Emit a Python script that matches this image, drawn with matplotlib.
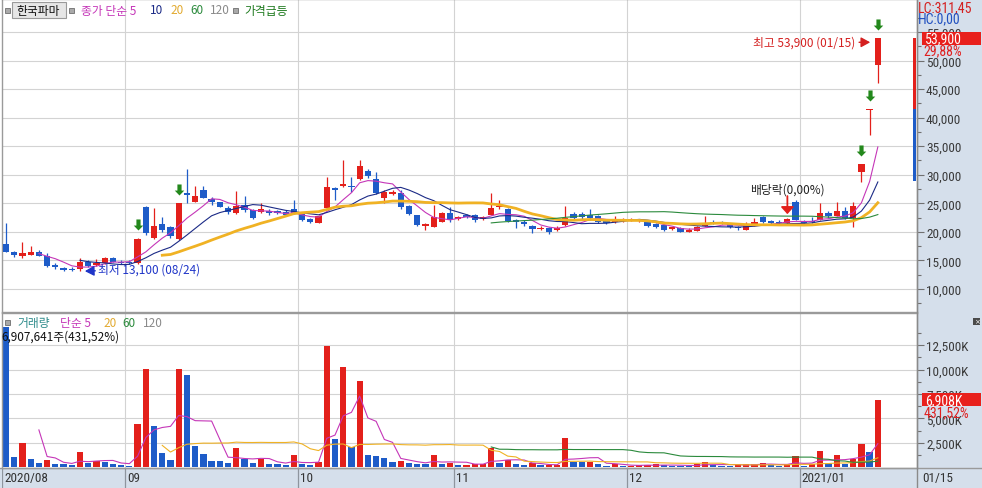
import numpy as np
import pandas as pd
import matplotlib
matplotlib.use("Agg")
import matplotlib.pyplot as plt
from matplotlib import font_manager
from matplotlib.font_manager import FontProperties
from matplotlib.path import Path
from matplotlib.patches import Rectangle
from matplotlib.transforms import offset_copy

# ---------------- data ----------------
holidays = ["2020-08-17", "2020-09-30", "2020-10-01", "2020-10-02",
            "2020-10-09", "2020-12-25", "2020-12-31", "2021-01-01"]
trade_days = pd.bdate_range("2020-08-10", "2021-01-15")
trade_days = trade_days[~trade_days.isin(pd.to_datetime(holidays))]

opens = [17900, 16500, 15800, 16000, 16400, 15800, 14200, 13700, 13500, 13500,
         14800, 14200, 14600, 15400, 14800, 14700, 14500, 24400, 19000, 21300,
         20900, 18700, 26800, 25300, 27400, 25800, 25200, 24200, 23300, 24700,
         23900, 23500, 23600, 23600, 23500, 24000, 23200, 22200, 21600, 24200,
         27600, 28000, 28100, 29300, 30700, 29300, 26000, 26600, 26800, 24500,
         23000, 21100, 20900, 21800, 23300, 22300, 23000, 23000, 22300, 23000,
         24400, 24000, 22100, 21800, 21000, 20500, 20700, 20300, 21200, 23200,
         23200, 23000, 22800, 21900, 21800, 22000, 22000, 21900, 21700, 21300,
         21200, 20500, 20700, 20000, 20200, 21100, 21800, 21700, 21400, 20900,
         20400, 21100, 22600, 21900, 21800, 21500, 25300, 21900, 21900, 22100,
         23300, 22800, 23600, 22450, 30500, 41300, 49200]
highs = [21600, 16600, 18300, 17600, 16800, 16300, 14600, 13800, 13900, 15400,
         15000, 15300, 15600, 15600, 15100, 15000, 18900, 24600, 24200, 22600,
         21000, 25000, 31000, 28000, 28000, 26100, 25300, 24500, 27200, 26300,
         24000, 25100, 24000, 23800, 23800, 25600, 23500, 22500, 23000, 29600,
         27900, 32600, 29600, 32600, 31000, 30500, 27400, 27400, 27400, 24700,
         23000, 21600, 24700, 23500, 24400, 22800, 23200, 23200, 22800, 26800,
         25600, 24200, 22300, 22000, 21200, 21000, 20800, 21000, 24500, 23400,
         23500, 24000, 23000, 22100, 22700, 22500, 22400, 22200, 21900, 21500,
         21300, 20900, 20800, 20600, 21000, 22800, 22000, 21900, 21500, 21100,
         21700, 22400, 22800, 22100, 22000, 22500, 25500, 22100, 22600, 25100,
         23700, 25200, 24400, 25200, 31950, 41500, 53900]
lows = [16400, 15600, 15500, 16000, 15700, 13900, 13500, 13200, 13200, 13100,
        13900, 14000, 14300, 14700, 14400, 14300, 14400, 19500, 18800, 20000,
        19000, 18500, 25000, 25200, 25900, 24700, 24300, 23200, 23100, 23500,
        22200, 23300, 22900, 23100, 22800, 23200, 21900, 21600, 21500, 24000,
        25600, 27800, 27000, 29100, 29500, 26600, 25000, 26400, 24000, 23000,
        21000, 20300, 20800, 21700, 21800, 22100, 22400, 21700, 22100, 22900,
        24000, 21700, 20700, 21000, 19800, 20300, 19650, 20200, 21100, 22300,
        22300, 22100, 21500, 21400, 21500, 21800, 21900, 21700, 20800, 20600,
        20200, 20300, 19900, 19900, 20100, 21000, 21400, 21300, 20700, 20400,
        20300, 21000, 21500, 21400, 21300, 21400, 22000, 21400, 21500, 22000,
        22400, 22700, 22300, 20900, 28750, 37000, 46100]
closes = [16500, 15900, 16300, 16500, 15800, 14100, 13800, 13300, 13300, 14700,
          14100, 14600, 15400, 14800, 14600, 14500, 18800, 19800, 21000, 20400,
          19200, 25000, 26400, 26300, 26000, 25300, 24400, 23500, 24500, 23900,
          22500, 24000, 23300, 23300, 23000, 23300, 22000, 21800, 22800, 27900,
          27300, 28400, 27900, 31500, 29800, 26800, 27000, 26900, 24400, 23200,
          21200, 21300, 22600, 23300, 22100, 22600, 22600, 22000, 22600, 24200,
          24600, 21900, 21700, 21300, 20500, 20700, 20000, 20700, 22400, 22500,
          22600, 22500, 21700, 21600, 22200, 22200, 22200, 22000, 21000, 20800,
          20400, 20800, 20000, 20400, 20900, 21500, 21600, 21400, 20800, 20600,
          21000, 21700, 21700, 21600, 21500, 22300, 22100, 21600, 21700, 23300,
          22800, 23600, 22450, 24600, 31950, 41500, 53900]
# volume, thousand shares
volumes = [14330, 1060, 2510, 830, 410, 720, 310, 300, 240, 1550,
           490, 620, 550, 310, 240, 140, 4440, 10120, 4240, 1450,
           720, 10020, 9500, 2200, 1340, 620, 610, 410, 1960, 900,
           410, 900, 310, 300, 240, 1240, 380, 240, 520, 12470,
           2890, 10230, 2030, 8880, 1240, 1170, 930, 550, 650, 410,
           340, 330, 1270, 340, 490, 230, 250, 310, 320, 1930,
           490, 720, 380, 210, 410, 210, 220, 240, 3000, 550,
           500, 590, 310, 140, 310, 150, 180, 200, 260, 290,
           200, 180, 150, 140, 300, 550, 200, 180, 170, 300,
           310, 380, 400, 250, 140, 310, 1170, 150, 380, 1620,
           380, 1240, 310, 900, 2380, 1600.78, 6907.641]

surge_days = ["2020-09-02", "2020-09-09", "2021-01-13", "2021-01-14", "2021-01-15"]
exdiv_day = "2020-12-29"
exdiv_label = "배당락(0,00%)"
stock_name = "한국파마"
lc_text = "LC:311,45"
hc_text = "HC:0,00"
side_red = (41500, 53900)
side_blue = (28900, 41500)
price_ticks = list(range(10000, 55001, 5000))
vol_ticks = [2500, 5000, 7500, 10000, 12500]
ma_periods = [5, 10, 20, 60]
vol_ma_periods = [5, 20, 60]

# ---------------- style ----------------
RED = "#e3201b"
BLUE = "#1e5cc8"
MA_COL = {5: "#c536b8", 10: "#1b2a86", 20: "#f0b224", 60: "#2b8a3c"}
MA_LW = {5: 0.8, 10: 0.8, 20: 2.0, 60: 0.8}
GREEN = "#23881c"
GRID = "#d3d3d3"
BG = "#d5dfeb"
KR = ["Noto Sans CJK KR", "DejaVu Sans"]


def pick(names):
    for n in names:
        try:
            font_manager.findfont(FontProperties(family=n), fallback_to_default=False)
            return n
        except ValueError:
            pass
    return "DejaVu Sans"


NUM = pick(["Liberation Sans Narrow", "DejaVu Sans Condensed", "Roboto Condensed", "Liberation Sans"])
plt.rcParams["font.family"] = KR

o = np.array(opens, float)
h = np.array(highs, float)
l = np.array(lows, float)
c = np.array(closes, float)
v = np.array(volumes, float)
n = len(c)
x = np.arange(n)

W, H = 982, 489
fig = plt.figure(figsize=(W / 100, H / 100), dpi=100)
fig.patch.set_facecolor("white")
fig.patches.append(Rectangle((917 / W, 0), (W - 917) / W, 1, transform=fig.transFigure,
                             facecolor=BG, edgecolor="none", zorder=-2))
fig.patches.append(Rectangle((0, 0), 1, 20 / H, transform=fig.transFigure,
                             facecolor=BG, edgecolor="none", zorder=-2))


def frame(x0, y0, x1, y1):
    return [x0 / W, 1 - y1 / H, (x1 - x0) / W, (y1 - y0) / H]


def ftext(px, py, s, **kw):
    kw.setdefault("va", "center")
    kw.setdefault("ha", "left")
    return fig.text(px / W, 1 - py / H, s, **kw)


ax = fig.add_axes(frame(2, 0, 917, 313))
axv = fig.add_axes(frame(2, 314, 917, 469), sharex=ax)
axd = fig.add_axes(frame(2, 469, 917, 489), sharex=ax)

ax.set_xlim(-0.486, 110.76)
ax.set_ylim(5970, 60780)
axv.set_ylim(-72, 15805)
axd.set_ylim(0, 1)

for a in (ax, axv):
    a.set_facecolor("white")
    a.set_axisbelow(True)
    for s in a.spines.values():
        s.set_color("#9a9a9a")
        s.set_linewidth(1)
    a.tick_params(axis="x", which="both", bottom=False, labelbottom=False)
    a.yaxis.tick_right()
    a.tick_params(axis="y", which="major", direction="out", length=5, width=0.8,
                  color="#707070", pad=1.5, labelsize=9.5, labelcolor="#3a3a3a")
    a.tick_params(axis="y", which="minor", direction="out", length=3, width=0.8, color="#707070")
    a.grid(axis="y", which="major", color=GRID, lw=0.8)

ax.set_yticks(price_ticks, labels=[f"{t:,}" for t in price_ticks], fontfamily=NUM)
ax.set_yticks(np.arange(7500, 60000, 2500), minor=True)
axv.set_yticks(vol_ticks, labels=[f"{t:,}K" for t in vol_ticks], fontfamily=NUM)
axv.set_yticks(np.arange(1250, 15000, 1250), minor=True)

axd.set_facecolor("none")
for s in axd.spines.values():
    s.set_visible(False)
axd.tick_params(left=False, bottom=False, labelleft=False, labelbottom=False)

# month separators
month_start = [i for i in range(n) if i == 0 or trade_days[i].month != trade_days[i - 1].month]
for i in month_start:
    if i > 0:
        ax.axvline(i - 0.5, color=GRID, lw=0.8, zorder=0.5)
        axv.axvline(i - 0.5, color=GRID, lw=0.8, zorder=0.5)
    axd.axvline(i - 0.5, color="#8e959e", lw=0.9)
    fmt = "%Y/%m" if (i == 0 or trade_days[i].year != trade_days[i - 1].year) else "%m"
    axd.text(i - 0.5 + 0.25, 0.5, trade_days[i].strftime(fmt), fontfamily=NUM, fontsize=9.5,
             color="#333333", va="center", ha="left")
ftext(922, 479, trade_days[-1].strftime("%m/%d"), fontfamily=NUM, fontsize=9.5, color="#333333")
fig.add_artist(plt.Line2D([0, 1], [20 / H, 20 / H], transform=fig.transFigure, color="#9a9a9a", lw=1))
fig.add_artist(plt.Line2D([917 / W, 917 / W], [0, 1], transform=fig.transFigure, color="#8a8a8a", lw=1))

# candles
ccol = np.where(c >= o, RED, BLUE)
ax.vlines(x, l, h, colors=ccol, lw=0.9, zorder=3)
body = np.abs(c - o)
bh = np.maximum(body, 180)
bb = np.minimum(o, c) - (bh - body) / 2
ax.bar(x, bh, bottom=bb, width=0.76, color=ccol, lw=0, zorder=3)

closes_s = pd.Series(c)
for p in ma_periods:
    ax.plot(x, closes_s.rolling(p).mean(), color=MA_COL[p], lw=MA_LW[p], zorder=4)

# side bar near right edge
yt = ax.get_yaxis_transform()
ax.add_patch(Rectangle((0.9956, side_red[0]), 0.0034, side_red[1] - side_red[0], transform=yt,
                       facecolor=RED, edgecolor="none", zorder=5))
ax.add_patch(Rectangle((0.9956, side_blue[0]), 0.0034, side_blue[1] - side_blue[0], transform=yt,
                       facecolor=BLUE, edgecolor="none", zorder=5))

# surge markers
arrow = Path([(0, 0.42), (-0.25, 0.68), (-0.11, 0.68), (-0.11, 1.0), (0.11, 1.0),
              (0.11, 0.68), (0.25, 0.68), (0, 0.42)],
             [Path.MOVETO] + [Path.LINETO] * 6 + [Path.CLOSEPOLY])
si = [trade_days.get_loc(pd.Timestamp(d)) for d in surge_days]
ax.plot(si, h[si], ls="none", marker=arrow, markersize=27.4, color=GREEN, mew=0, zorder=6)

# low annotation
ilo = int(np.argmin(l))
LOWC = "#1f35c8"
ax.annotate(f"최저 {int(l[ilo]):,} ({trade_days[ilo]:%m/%d})", xy=(ilo, l[ilo]), xytext=(13, 1.5),
            textcoords="offset points", ha="left", va="center", color=LOWC, fontsize=8.5,
            arrowprops=dict(arrowstyle="-|>,head_length=0.55,head_width=0.3", color=LOWC, lw=1,
                            shrinkA=0, shrinkB=3.5, mutation_scale=10), zorder=7)

# high annotation
ihi = int(np.argmax(h))
HIC = "#d42020"
tr_hi = offset_copy(ax.transData, fig=fig, x=0, y=-4, units="dots")
ax.annotate(f"최고 {int(h[ihi]):,} ({trade_days[ihi]:%m/%d})", xy=(ihi, h[ihi]), xycoords=tr_hi,
            xytext=(-16.5, 0), textcoords="offset points", ha="right", va="center", color=HIC,
            fontsize=8.5,
            arrowprops=dict(arrowstyle="-|>,head_length=0.55,head_width=0.3", color=HIC, lw=1,
                            shrinkA=1, shrinkB=5.5, mutation_scale=10), zorder=7)

# ex-dividend
ie = trade_days.get_loc(pd.Timestamp(exdiv_day))
ax.annotate(exdiv_label, xy=(ie, h[ie]), xytext=(0, 20.5), textcoords="offset points",
            ha="center", va="center", color="#222222", fontsize=8.5, zorder=7)
ax.annotate("", xy=(ie, h[ie]), xytext=(0, 15.5), textcoords="offset points",
            arrowprops=dict(arrowstyle="-|>,head_length=0.35,head_width=0.32", color=RED, lw=1.3,
                            shrinkA=0, shrinkB=2.5, mutation_scale=12), zorder=7)

# volume
vcol = [BLUE] + [RED if v[i] > v[i - 1] else BLUE for i in range(1, n)]
vol_s = pd.Series(v)
vol_pct = v[-1] / v[-2] * 100
axv.bar(x, v, width=0.76, color=vcol, lw=0, zorder=2)
for p in vol_ma_periods:
    axv.plot(x, vol_s.rolling(p).mean(), color=MA_COL[p], lw=0.8, zorder=3)

# price panel legend
def square(px, py):
    fig.patches.append(Rectangle(((px) / W, 1 - (py + 5) / H), 5 / W, 5 / H, transform=fig.transFigure,
                                 facecolor="#a9a9a9", edgecolor="#6e6e6e", lw=0.6, zorder=5))


square(5, 9)
fig.patches.append(Rectangle((12 / W, 1 - 19 / H), 54 / W, 16 / H, transform=fig.transFigure,
                             facecolor="#e6e6e6", edgecolor="#9a9a9a", lw=0.8, zorder=5))
ftext(16, 11, stock_name, fontsize=8.5, color="#111111", zorder=6)
square(69, 9)
ftext(81, 11, "종가 단순 5", fontsize=8.5, color=MA_COL[5])
ftext(150, 11, "10", fontsize=8.5, color=MA_COL[10])
ftext(170, 11, "20", fontsize=8.5, color="#e2aa30")
ftext(190, 11, "60", fontsize=8.5, color=MA_COL[60])
ftext(210, 11, "120", fontsize=8.5, color="#8a8a8a")
square(233, 9)
ftext(244, 11, "가격급등", fontsize=8.5, color="#1e7a1e")

# volume panel legend
square(5, 321)
ftext(17, 324, "거래량", fontsize=8.5, color="#2f8c8c")
ftext(60, 324, "단순 5", fontsize=8.5, color=MA_COL[5])
ftext(103, 324, "20", fontsize=8.5, color="#e2aa30")
ftext(122, 324, "60", fontsize=8.5, color=MA_COL[60])
ftext(143, 324, "120", fontsize=8.5, color="#8a8a8a")
ftext(1, 337, f"{int(round(v[-1] * 1000)):,}주({vol_pct:.2f}%)".replace(".", ","), fontsize=8.5,
      color="#111111", zorder=0.5)

# right strip labels
ftext(918, 8, lc_text, fontfamily=NUM, fontsize=10, color="#d42020")
ftext(918, 19, hc_text, fontfamily=NUM, fontsize=10, color="#2050c0")
chg = (c[-1] / c[-2] - 1) * 100
ax.add_patch(Rectangle((1.0055, c[-1] - 1140), 0.0645, 2280, transform=yt, facecolor="#e8201c",
                       edgecolor="none", clip_on=False, zorder=8))
ax.text(1.0085, c[-1], f"{int(c[-1]):,}", transform=yt, fontfamily=NUM, fontsize=10, color="white",
        va="center", ha="left", zorder=9, clip_on=False)
ax.text(1.0075, c[-1] - 2150, f"{chg:.2f}%".replace(".", ","), transform=yt, fontfamily=NUM,
        fontsize=10, color="#e02020", va="center", ha="left", zorder=9, clip_on=False)

ytv = axv.get_yaxis_transform()
axv.add_patch(Rectangle((1.0055, v[-1] - 680), 0.0645, 1360, transform=ytv, facecolor="#e8201c",
                        edgecolor="none", clip_on=False, zorder=8))
axv.text(1.0085, v[-1], f"{int(round(v[-1])):,}K", transform=ytv, fontfamily=NUM, fontsize=10,
         color="white", va="center", ha="left", zorder=9, clip_on=False)
axv.text(1.0075, v[-1] - 1300, f"{vol_pct:.2f}%".replace(".", ","), transform=ytv, fontfamily=NUM,
         fontsize=10, color="#e02020", va="center", ha="left", zorder=9, clip_on=False)

# close button
fig.patches.append(Rectangle((973 / W, 1 - 326 / H), 7 / W, 7 / H, transform=fig.transFigure,
                             facecolor="#4a4a4a", edgecolor="none", zorder=5))
ftext(976.5, 322.5, "×", fontsize=5, color="white", ha="center", family="DejaVu Sans", zorder=6)

fig.savefig("out.png", dpi=100)
